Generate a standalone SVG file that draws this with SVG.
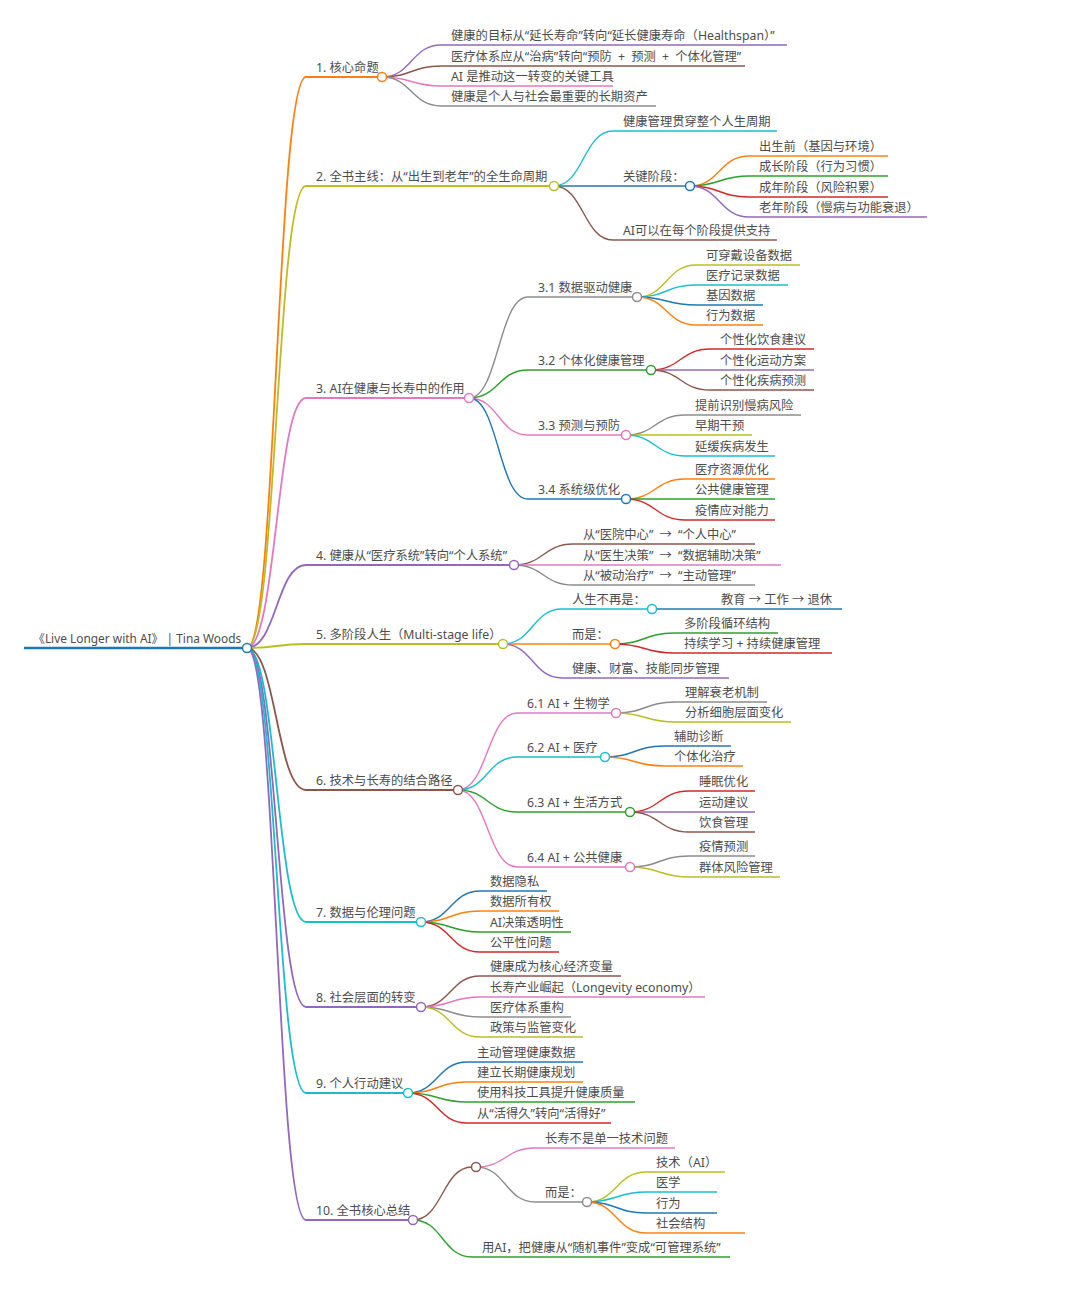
<svg xmlns="http://www.w3.org/2000/svg" width="1080" height="1294" viewBox="0 0 1080 1294">
<style>
text{font-family:"Noto Sans","Noto Sans CJK SC",sans-serif;font-size:12.3px;fill:#4d4d4d}
path{fill:none;stroke-width:1.4}
.l1 path{stroke-width:1.8}
#links .l1{stroke-width:1.8}
circle{fill:#fff;stroke-width:1.5}
.ws{word-spacing:3px}
.bl{stroke:#1f77b4}.or{stroke:#ff7f0e}.gr{stroke:#2ca02c}.rd{stroke:#d62728}.pu{stroke:#9467bd}
.br{stroke:#8c564b}.pk{stroke:#e377c2}.gy{stroke:#8c8c8c}.ol{stroke:#bcbd22}.cy{stroke:#17becf}
</style>
<rect width="1080" height="1294" fill="#fff"/>
<g id="links">
<path class="l1 or" d="M247,648C276.5,648 276.5,77 306,77"/>
<path class="l1 ol" d="M247,648C276.5,648 276.5,186 306,186"/>
<path class="l1 pk" d="M247,648C276.5,648 276.5,398 306,398"/>
<path class="l1 pu" d="M247,648C276.5,648 276.5,565 306,565"/>
<path class="l1 ol" d="M247,648C276.5,648 276.5,644 306,644"/>
<path class="l1 br" d="M247,648C276.5,648 276.5,790 306,790"/>
<path class="l1 cy" d="M247,648C276.5,648 276.5,922 306,922"/>
<path class="l1 pu" d="M247,648C276.5,648 276.5,1007 306,1007"/>
<path class="l1 cy" d="M247,648C276.5,648 276.5,1093 306,1093"/>
<path class="l1 pu" d="M247,648C276.5,648 276.5,1220 306,1220"/>
<path class="pu" d="M382,77C411.5,77 411.5,45 441,45"/>
<path class="br" d="M382,77C411.5,77 411.5,66 441,66"/>
<path class="pk" d="M382,77C411.5,77 411.5,86 441,86"/>
<path class="gy" d="M382,77C411.5,77 411.5,106 441,106"/>
<path class="cy" d="M554,186C583.5,186 583.5,131 613,131"/>
<path class="bl" d="M554,186H613"/>
<path class="br" d="M554,186C583.5,186 583.5,240 613,240"/>
<path class="or" d="M690,186C719.5,186 719.5,156 749,156"/>
<path class="gr" d="M690,186C719.5,186 719.5,176 749,176"/>
<path class="rd" d="M690,186C719.5,186 719.5,197 749,197"/>
<path class="pu" d="M690,186C719.5,186 719.5,217 749,217"/>
<path class="gy" d="M469,398C498.5,398 498.5,297 528,297"/>
<path class="gr" d="M469,398C498.5,398 498.5,370 528,370"/>
<path class="pk" d="M469,398C498.5,398 498.5,435 528,435"/>
<path class="bl" d="M469,398C498.5,398 498.5,499 528,499"/>
<path class="ol" d="M637,297C666.5,297 666.5,265 696,265"/>
<path class="cy" d="M637,297C666.5,297 666.5,285 696,285"/>
<path class="bl" d="M637,297C666.5,297 666.5,305 696,305"/>
<path class="or" d="M637,297C666.5,297 666.5,325 696,325"/>
<path class="rd" d="M651,370C680.5,370 680.5,349 710,349"/>
<path class="pu" d="M651,370H710"/>
<path class="br" d="M651,370C680.5,370 680.5,390 710,390"/>
<path class="gy" d="M626,435C655.5,435 655.5,415 685,415"/>
<path class="ol" d="M626,435H685"/>
<path class="cy" d="M626,435C655.5,435 655.5,456 685,456"/>
<path class="or" d="M626,499C655.5,499 655.5,479 685,479"/>
<path class="gr" d="M626,499H685"/>
<path class="rd" d="M626,499C655.5,499 655.5,520 685,520"/>
<path class="br" d="M514,565C543.5,565 543.5,544 573,544"/>
<path class="pk" d="M514,565H573"/>
<path class="gy" d="M514,565C543.5,565 543.5,585 573,585"/>
<path class="cy" d="M503,644C532.5,644 532.5,609 562,609"/>
<path class="or" d="M503,644H562"/>
<path class="pu" d="M503,644C532.5,644 532.5,678 562,678"/>
<path class="bl" d="M652,609H711"/>
<path class="gr" d="M615,644C644.5,644 644.5,633 674,633"/>
<path class="rd" d="M615,644C644.5,644 644.5,653 674,653"/>
<path class="pk" d="M458,790C487.5,790 487.5,713 517,713"/>
<path class="cy" d="M458,790C487.5,790 487.5,757 517,757"/>
<path class="gr" d="M458,790C487.5,790 487.5,812 517,812"/>
<path class="pk" d="M458,790C487.5,790 487.5,867 517,867"/>
<path class="gy" d="M616,713C645.5,713 645.5,702 675,702"/>
<path class="ol" d="M616,713C645.5,713 645.5,722 675,722"/>
<path class="bl" d="M605,757C634.5,757 634.5,746 664,746"/>
<path class="or" d="M605,757C634.5,757 634.5,766 664,766"/>
<path class="rd" d="M630,812C659.5,812 659.5,791 689,791"/>
<path class="pu" d="M630,812H689"/>
<path class="br" d="M630,812C659.5,812 659.5,832 689,832"/>
<path class="gy" d="M630,867C659.5,867 659.5,856 689,856"/>
<path class="ol" d="M630,867C659.5,867 659.5,877 689,877"/>
<path class="bl" d="M421,922C450.5,922 450.5,891 480,891"/>
<path class="or" d="M421,922C450.5,922 450.5,911 480,911"/>
<path class="gr" d="M421,922C450.5,922 450.5,932 480,932"/>
<path class="rd" d="M421,922C450.5,922 450.5,952 480,952"/>
<path class="br" d="M421,1007C450.5,1007 450.5,976 480,976"/>
<path class="pk" d="M421,1007C450.5,1007 450.5,997 480,997"/>
<path class="gy" d="M421,1007C450.5,1007 450.5,1017 480,1017"/>
<path class="ol" d="M421,1007C450.5,1007 450.5,1037 480,1037"/>
<path class="bl" d="M408,1093C437.5,1093 437.5,1062 467,1062"/>
<path class="or" d="M408,1093C437.5,1093 437.5,1082 467,1082"/>
<path class="gr" d="M408,1093C437.5,1093 437.5,1102 467,1102"/>
<path class="rd" d="M408,1093C437.5,1093 437.5,1123 467,1123"/>
<path class="br" d="M413,1220C442.5,1220 442.5,1167 472,1167"/>
<path class="gr" d="M413,1220C442.5,1220 442.5,1257 472,1257"/>
<path class="pk" d="M476,1167C505.5,1167 505.5,1148 535,1148"/>
<path class="gy" d="M476,1167C505.5,1167 505.5,1202 535,1202"/>
<path class="ol" d="M587,1202C616.5,1202 616.5,1172 646,1172"/>
<path class="cy" d="M587,1202C616.5,1202 616.5,1192 646,1192"/>
<path class="bl" d="M587,1202C616.5,1202 616.5,1213 646,1213"/>
<path class="or" d="M587,1202C616.5,1202 616.5,1233 646,1233"/>
</g>
<g id="root"><path class="bl" style="stroke-width:2.5" d="M24,648H242.5"/><text x="33" y="643" style="font-size:11.9px">《Live Longer with AI》 | Tina Woods</text><circle class="bl" cx="247" cy="648" r="4.5"/></g>
<g id="n1" class="l1"><path class="or" d="M306,77H377.5"/><text x="316" y="72">1. 核心命题</text><circle class="or" cx="382" cy="77" r="4.5"/></g>
<g id="n1-1"><path class="pu" d="M441,45H787"/><text x="451" y="40">健康的目标从“延长寿命”转向“延长健康寿命（Healthspan）”</text></g>
<g id="n1-2"><path class="br" d="M441,66H745"/><text class="ws" x="451" y="61">医疗体系应从“治病”转向“预防 + 预测 + 个体化管理”</text></g>
<g id="n1-3"><path class="pk" d="M441,86H613"/><text x="451" y="81">AI 是推动这一转变的关键工具</text></g>
<g id="n1-4"><path class="gy" d="M441,106H656"/><text x="451" y="101">健康是个人与社会最重要的长期资产</text></g>
<g id="n2" class="l1"><path class="ol" d="M306,186H549.5"/><text x="316" y="181">2. 全书主线：从“出生到老年”的全生命周期</text><circle class="ol" cx="554" cy="186" r="4.5"/></g>
<g id="n2-1"><path class="cy" d="M613,131H777"/><text x="623" y="126">健康管理贯穿整个人生周期</text></g>
<g id="n2-2"><path class="bl" d="M613,186H685.5"/><text x="623" y="181">关键阶段：</text><circle class="bl" cx="690" cy="186" r="4.5"/></g>
<g id="n2-2-1"><path class="or" d="M749,156H888"/><text x="759" y="151">出生前（基因与环境）</text></g>
<g id="n2-2-2"><path class="gr" d="M749,176H888"/><text x="759" y="171">成长阶段（行为习惯）</text></g>
<g id="n2-2-3"><path class="rd" d="M749,197H888"/><text x="759" y="192">成年阶段（风险积累）</text></g>
<g id="n2-2-4"><path class="pu" d="M749,217H927"/><text x="759" y="212">老年阶段（慢病与功能衰退）</text></g>
<g id="n2-3"><path class="br" d="M613,240H777"/><text x="623" y="235">AI可以在每个阶段提供支持</text></g>
<g id="n3" class="l1"><path class="pk" d="M306,398H464.5"/><text x="316" y="393">3. AI在健康与长寿中的作用</text><circle class="pk" cx="469" cy="398" r="4.5"/></g>
<g id="n3-1"><path class="gy" d="M528,297H632.5"/><text x="538" y="292">3.1 数据驱动健康</text><circle class="gy" cx="637" cy="297" r="4.5"/></g>
<g id="n3-1-1"><path class="ol" d="M696,265H800"/><text x="706" y="260">可穿戴设备数据</text></g>
<g id="n3-1-2"><path class="cy" d="M696,285H788"/><text x="706" y="280">医疗记录数据</text></g>
<g id="n3-1-3"><path class="bl" d="M696,305H763"/><text x="706" y="300">基因数据</text></g>
<g id="n3-1-4"><path class="or" d="M696,325H763"/><text x="706" y="320">行为数据</text></g>
<g id="n3-2"><path class="gr" d="M528,370H646.5"/><text x="538" y="365">3.2 个体化健康管理</text><circle class="gr" cx="651" cy="370" r="4.5"/></g>
<g id="n3-2-1"><path class="rd" d="M710,349H814"/><text x="720" y="344">个性化饮食建议</text></g>
<g id="n3-2-2"><path class="pu" d="M710,370H814"/><text x="720" y="365">个性化运动方案</text></g>
<g id="n3-2-3"><path class="br" d="M710,390H814"/><text x="720" y="385">个性化疾病预测</text></g>
<g id="n3-3"><path class="pk" d="M528,435H621.5"/><text x="538" y="430">3.3 预测与预防</text><circle class="pk" cx="626" cy="435" r="4.5"/></g>
<g id="n3-3-1"><path class="gy" d="M685,415H801"/><text x="695" y="410">提前识别慢病风险</text></g>
<g id="n3-3-2"><path class="ol" d="M685,435H752"/><text x="695" y="430">早期干预</text></g>
<g id="n3-3-3"><path class="cy" d="M685,456H775"/><text x="695" y="451">延缓疾病发生</text></g>
<g id="n3-4"><path class="bl" d="M528,499H621.5"/><text x="538" y="494">3.4 系统级优化</text><circle class="bl" cx="626" cy="499" r="4.5"/></g>
<g id="n3-4-1"><path class="or" d="M685,479H775"/><text x="695" y="474">医疗资源优化</text></g>
<g id="n3-4-2"><path class="gr" d="M685,499H775"/><text x="695" y="494">公共健康管理</text></g>
<g id="n3-4-3"><path class="rd" d="M685,520H775"/><text x="695" y="515">疫情应对能力</text></g>
<g id="n4" class="l1"><path class="pu" d="M306,565H509.5"/><text x="316" y="560">4. 健康从“医疗系统”转向“个人系统”</text><circle class="pu" cx="514" cy="565" r="4.5"/></g>
<g id="n4-1"><path class="br" d="M573,544H755"/><text class="ws" x="583" y="539">从“医院中心” → “个人中心”</text></g>
<g id="n4-2"><path class="pk" d="M573,565H781"/><text class="ws" x="583" y="560">从“医生决策” → “数据辅助决策”</text></g>
<g id="n4-3"><path class="gy" d="M573,585H755"/><text class="ws" x="583" y="580">从“被动治疗” → “主动管理”</text></g>
<g id="n5" class="l1"><path class="ol" d="M306,644H498.5"/><text x="316" y="639">5. 多阶段人生（Multi-stage life）</text><circle class="ol" cx="503" cy="644" r="4.5"/></g>
<g id="n5-1"><path class="cy" d="M562,609H647.5"/><text x="572" y="604">人生不再是：</text><circle class="cy" cx="652" cy="609" r="4.5"/></g>
<g id="n5-1-1"><path class="bl" d="M711,609H842"/><text x="721" y="604">教育 → 工作 → 退休</text></g>
<g id="n5-2"><path class="or" d="M562,644H610.5"/><text x="572" y="639">而是：</text><circle class="or" cx="615" cy="644" r="4.5"/></g>
<g id="n5-2-1"><path class="gr" d="M674,633H778"/><text x="684" y="628">多阶段循环结构</text></g>
<g id="n5-2-2"><path class="rd" d="M674,653H832"/><text x="684" y="648">持续学习 + 持续健康管理</text></g>
<g id="n5-3"><path class="pu" d="M562,678H729"/><text x="572" y="673">健康、财富、技能同步管理</text></g>
<g id="n6" class="l1"><path class="br" d="M306,790H453.5"/><text x="316" y="785">6. 技术与长寿的结合路径</text><circle class="br" cx="458" cy="790" r="4.5"/></g>
<g id="n6-1"><path class="pk" d="M517,713H611.5"/><text x="527" y="708">6.1 AI + 生物学</text><circle class="pk" cx="616" cy="713" r="4.5"/></g>
<g id="n6-1-1"><path class="gy" d="M675,702H767"/><text x="685" y="697">理解衰老机制</text></g>
<g id="n6-1-2"><path class="ol" d="M675,722H791"/><text x="685" y="717">分析细胞层面变化</text></g>
<g id="n6-2"><path class="cy" d="M517,757H600.5"/><text x="527" y="752">6.2 AI + 医疗</text><circle class="cy" cx="605" cy="757" r="4.5"/></g>
<g id="n6-2-1"><path class="bl" d="M664,746H731"/><text x="674" y="741">辅助诊断</text></g>
<g id="n6-2-2"><path class="or" d="M664,766H743"/><text x="674" y="761">个体化治疗</text></g>
<g id="n6-3"><path class="gr" d="M517,812H625.5"/><text x="527" y="807">6.3 AI + 生活方式</text><circle class="gr" cx="630" cy="812" r="4.5"/></g>
<g id="n6-3-1"><path class="rd" d="M689,791H755"/><text x="699" y="786">睡眠优化</text></g>
<g id="n6-3-2"><path class="pu" d="M689,812H755"/><text x="699" y="807">运动建议</text></g>
<g id="n6-3-3"><path class="br" d="M689,832H755"/><text x="699" y="827">饮食管理</text></g>
<g id="n6-4"><path class="pk" d="M517,867H625.5"/><text x="527" y="862">6.4 AI + 公共健康</text><circle class="pk" cx="630" cy="867" r="4.5"/></g>
<g id="n6-4-1"><path class="gy" d="M689,856H755"/><text x="699" y="851">疫情预测</text></g>
<g id="n6-4-2"><path class="ol" d="M689,877H780"/><text x="699" y="872">群体风险管理</text></g>
<g id="n7" class="l1"><path class="cy" d="M306,922H416.5"/><text x="316" y="917">7. 数据与伦理问题</text><circle class="cy" cx="421" cy="922" r="4.5"/></g>
<g id="n7-1"><path class="bl" d="M480,891H547"/><text x="490" y="886">数据隐私</text></g>
<g id="n7-2"><path class="or" d="M480,911H559"/><text x="490" y="906">数据所有权</text></g>
<g id="n7-3"><path class="gr" d="M480,932H571"/><text x="490" y="927">AI决策透明性</text></g>
<g id="n7-4"><path class="rd" d="M480,952H559"/><text x="490" y="947">公平性问题</text></g>
<g id="n8" class="l1"><path class="pu" d="M306,1007H416.5"/><text x="316" y="1002">8. 社会层面的转变</text><circle class="pu" cx="421" cy="1007" r="4.5"/></g>
<g id="n8-1"><path class="br" d="M480,976H621"/><text x="490" y="971">健康成为核心经济变量</text></g>
<g id="n8-2"><path class="pk" d="M480,997H705"/><text x="490" y="992">长寿产业崛起（Longevity economy）</text></g>
<g id="n8-3"><path class="gy" d="M480,1017H571"/><text x="490" y="1012">医疗体系重构</text></g>
<g id="n8-4"><path class="ol" d="M480,1037H583"/><text x="490" y="1032">政策与监管变化</text></g>
<g id="n9" class="l1"><path class="cy" d="M306,1093H403.5"/><text x="316" y="1088">9. 个人行动建议</text><circle class="cy" cx="408" cy="1093" r="4.5"/></g>
<g id="n9-1"><path class="bl" d="M467,1062H583"/><text x="477" y="1057">主动管理健康数据</text></g>
<g id="n9-2"><path class="or" d="M467,1082H583"/><text x="477" y="1077">建立长期健康规划</text></g>
<g id="n9-3"><path class="gr" d="M467,1102H635"/><text x="477" y="1097">使用科技工具提升健康质量</text></g>
<g id="n9-4"><path class="rd" d="M467,1123H611"/><text x="477" y="1118">从“活得久”转向“活得好”</text></g>
<g id="n10" class="l1"><path class="pu" d="M306,1220H408.5"/><text x="316" y="1215">10. 全书核心总结</text><circle class="pu" cx="413" cy="1220" r="4.5"/></g>
<g id="n10-1"><circle class="br" cx="476" cy="1167" r="4.5"/></g>
<g id="n10-1-1"><path class="pk" d="M535,1148H675"/><text x="545" y="1143">长寿不是单一技术问题</text></g>
<g id="n10-1-2"><path class="gy" d="M535,1202H582.5"/><text x="545" y="1197">而是：</text><circle class="gy" cx="587" cy="1202" r="4.5"/></g>
<g id="n10-1-2-1"><path class="ol" d="M646,1172H725"/><text x="656" y="1167">技术（AI）</text></g>
<g id="n10-1-2-2"><path class="cy" d="M646,1192H717"/><text x="656" y="1187">医学</text></g>
<g id="n10-1-2-3"><path class="bl" d="M646,1213H717"/><text x="656" y="1208">行为</text></g>
<g id="n10-1-2-4"><path class="or" d="M646,1233H745"/><text x="656" y="1228">社会结构</text></g>
<g id="n10-2"><path class="gr" d="M472,1257H730"/><text x="482" y="1252">用AI，把健康从“随机事件”变成“可管理系统”</text></g>
</svg>
